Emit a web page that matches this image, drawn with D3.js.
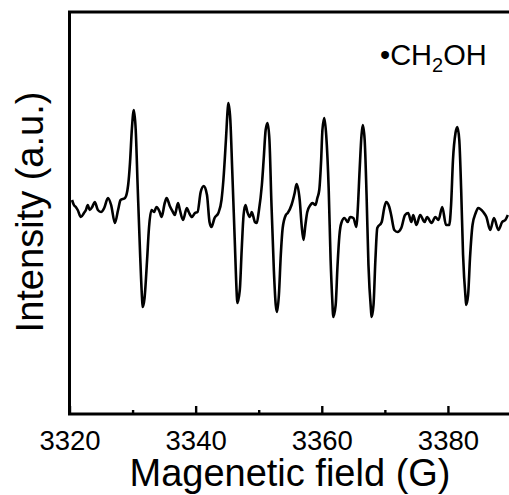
<!DOCTYPE html>
<html>
<head>
<meta charset="utf-8">
<script src="https://cdn.jsdelivr.net/npm/d3@7"></script>
<style>
  body { margin: 0; background: #fff; }
  svg { display: block; font-family: "Liberation Sans", Arial, sans-serif; }
</style>
</head>
<body>
<div id="chart"></div>
<script>
// Magnetic field (G)
const field = [
  3320.4, 3320.7, 3321.0, 3321.3, 3321.8, 3322.3, 3322.6, 3322.9, 3323.2, 3323.6,
  3324.0, 3324.5, 3325.0, 3325.5, 3326.1, 3326.6, 3327.2, 3327.7, 3328.1, 3328.8,
  3329.3, 3329.6, 3329.9, 3330.2, 3330.5, 3330.8, 3331.2, 3331.5, 3331.6, 3331.9,
  3332.3, 3332.6, 3333.0, 3333.4, 3333.8, 3334.3, 3334.6, 3335.1, 3335.4, 3335.9,
  3336.4, 3336.7, 3337.2, 3337.5, 3338.0, 3338.6, 3338.9, 3339.4, 3339.9, 3340.3,
  3340.8, 3341.3, 3341.8, 3342.2, 3342.5, 3343.0, 3343.6, 3344.1, 3344.4, 3344.8,
  3345.1, 3345.2, 3345.5, 3345.8, 3346.2, 3346.5, 3346.6, 3347.0, 3347.3, 3347.6,
  3347.9, 3348.2, 3348.6, 3348.9, 3349.4, 3349.7, 3350.0, 3350.5, 3350.8, 3351.1,
  3351.4, 3351.7, 3352.0, 3352.4, 3352.7, 3352.9, 3353.2, 3353.5, 3353.8, 3354.3,
  3354.6, 3355.2, 3355.7, 3356.0, 3356.5, 3356.8, 3357.1, 3357.4, 3357.7, 3358.2,
  3358.5, 3359.0, 3359.3, 3359.6, 3359.9, 3360.1, 3360.4, 3360.7, 3361.1, 3361.4,
  3361.7, 3361.8, 3362.2, 3362.5, 3362.8, 3363.1, 3363.6, 3364.1, 3364.5, 3365.0,
  3365.5, 3365.7, 3366.0, 3366.3, 3366.5, 3366.8, 3367.1, 3367.4, 3367.8, 3367.9,
  3368.2, 3368.5, 3368.8, 3369.5, 3369.9, 3370.2, 3370.7, 3371.0, 3371.5, 3372.0,
  3372.6, 3373.2, 3373.7, 3374.2, 3374.5, 3375.0, 3375.6, 3376.3, 3376.7, 3377.4,
  3378.0, 3378.5, 3379.1, 3379.7, 3380.2, 3380.5, 3380.8, 3381.2, 3381.5, 3381.8,
  3382.1, 3382.4, 3382.8, 3382.9, 3383.2, 3383.5, 3383.9, 3384.4, 3384.8, 3385.6,
  3386.1, 3386.7, 3387.3, 3388.0, 3388.6, 3389.1, 3389.5
];

// Intensity (a.u.), same order
const intensity = [
  12, 7, 5, 2, -5, -1, 2, 7, 2, 5,
  10, 2, 0, 4, 14, 7, -11, 2, 12, 14,
  27, 50, 84, 102, 82, 27, -43, -86, -95, -86,
  -48, -16, 2, 0, 5, 0, -5, 9, 14, 6,
  0, -3, 9, 2, -8, 4, 0, -5, -1, 0,
  20, 26, 17, -10, -15, -6, -1, 12, 32, 72,
  104, 109, 92, 42, -28, -80, -91, -78, -38, -3,
  7, 0, -5, 0, -10, -11, 0, 27, 54, 82,
  89, 72, 12, -58, -93, -100, -83, -43, -16, -3,
  -1, 7, 19, 28, 12, -13, -28, -13, 0, 7,
  9, 7, 14, 22, 52, 82, 94, 77, 22, -48,
  -93, -105, -93, -53, -23, -11, -6, -10, -5, -6,
  -15, 2, 42, 77, 87, 72, 17, -53, -98, -105,
  -93, -48, -16, -10, 4, 10, 5, -3, -18, -20,
  -16, -3, -1, -10, -3, -13, -3, -10, -5, -11,
  -5, -8, 5, -13, -13, 7, 52, 79, 85, 72,
  22, -43, -86, -93, -83, -46, -13, -1, 4, 0,
  -5, -18, -6, -18, -10, -8, -3
];

const majorTicks = [3320, 3340, 3360, 3380];
const minorTicks = [3330, 3350, 3370];

const width = 509, height = 495;
const margin = { top: 12, right: -2, bottom: 81, left: 69.5 };

const svg = d3.select("#chart")
    .append("svg")
    .attr("width", width)
    .attr("height", height);

const x = d3.scaleLinear()
    .domain([3320, 3390])
    .range([margin.left, width - margin.right]);

const y = d3.scaleLinear()
    .domain([-202, 200])
    .range([height - margin.bottom, margin.top]);

const data = field.map((f, i) => ({ f: f, v: intensity[i] }));

// spectrum
const line = d3.line()
    .x(d => x(d.f))
    .y(d => y(d.v))
    .curve(d3.curveMonotoneX);

svg.append("path")
    .datum(data)
    .attr("d", line)
    .attr("fill", "none")
    .attr("stroke", "#000")
    .attr("stroke-width", 2.6)
    .attr("stroke-linejoin", "round");

// minor ticks (inward, no labels)
svg.append("g")
    .attr("transform", `translate(0,${height - margin.bottom})`)
    .call(d3.axisBottom(x).tickValues(minorTicks).tickSizeInner(-4).tickSizeOuter(0).tickFormat(""))
    .call(g => g.select(".domain").remove())
    .call(g => g.selectAll("line").attr("stroke-width", 2.4));

// major ticks + labels
svg.append("g")
    .attr("transform", `translate(0,${height - margin.bottom})`)
    .call(d3.axisBottom(x).tickValues(majorTicks).tickSizeInner(-8).tickSizeOuter(0).tickPadding(16).tickFormat(d3.format("d")))
    .call(g => g.select(".domain").remove())
    .call(g => g.selectAll("line").attr("stroke-width", 2.4))
    .call(g => g.selectAll("text")
        .attr("font-size", 27.5)
        .attr("fill", "#000")
        .attr("font-family", "'Liberation Sans', Arial, sans-serif"));

// frame
svg.append("rect")
    .attr("x", x.range()[0])
    .attr("y", y.range()[1])
    .attr("width", x.range()[1] - x.range()[0])
    .attr("height", y.range()[0] - y.range()[1])
    .attr("fill", "none")
    .attr("stroke", "#000")
    .attr("stroke-width", 3);

// axis titles
svg.append("text")
    .attr("x", 290)
    .attr("y", 486)
    .attr("text-anchor", "middle")
    .attr("font-size", 38)
    .text("Magenetic field (G)");

svg.append("text")
    .attr("transform", "translate(43,212) rotate(-90)")
    .attr("text-anchor", "middle")
    .attr("font-size", 38)
    .text("Intensity (a.u.)");

// species label
const lab = svg.append("text")
    .attr("x", 380)
    .attr("y", 65)
    .attr("font-size", 29);
lab.append("tspan").text("•CH");
lab.append("tspan").attr("font-size", 20).attr("dy", 7).text("2");
lab.append("tspan").attr("dy", -7).text("OH");
</script>
</body>
</html>
